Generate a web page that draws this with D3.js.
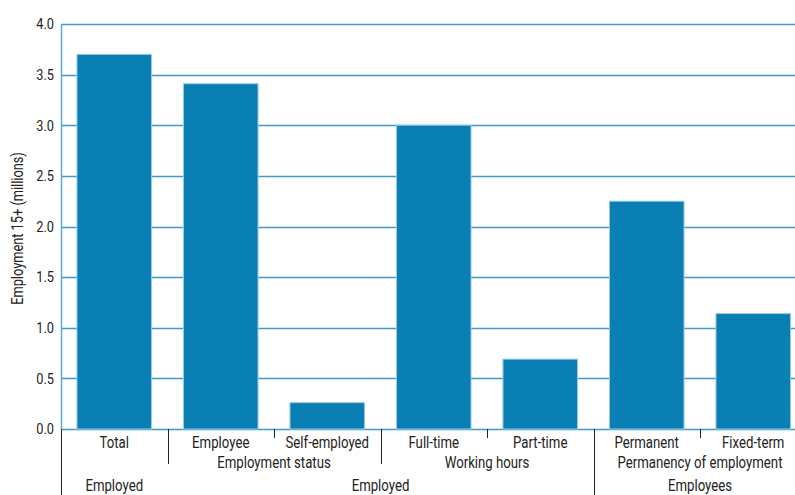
<!DOCTYPE html>
<html>
<head>
<meta charset="utf-8">
<script src="https://cdn.jsdelivr.net/npm/d3@7"></script>
<style>
  html, body { margin: 0; padding: 0; background: #fff; }
  svg { display: block; }
  text { font-family: Roboto, "DejaVu Sans Condensed", sans-serif; fill: #222; }
</style>
</head>
<body>
<svg id="chart" width="795" height="495"></svg>
<script>
const categories = ["Total", "Employee", "Self-employed", "Full-time", "Part-time", "Permanent", "Fixed-term"];
const values = [3.70, 3.41, 0.26, 3.00, 0.69, 2.25, 1.14];
const yTicks = [0, 0.5, 1.0, 1.5, 2.0, 2.5, 3.0, 3.5, 4.0];
const level2Labels = ["", "Employment status", "Working hours", "Permanency of employment"];
const level2Spans = [[0, 0], [1, 2], [3, 4], [5, 6]];
const level3Labels = ["Employed", "Employed", "Employees"];
const level3Spans = [[0, 0], [1, 4], [5, 6]];
const yLabel = "Employment 15+ (millions)";

(function () {
const svg = d3.select("#chart");
const pLeft = 61, pTop = 24, pBottom = 429, pRight = 806.5;

const x = d3.scaleBand().domain(categories).range([pLeft, pRight]).paddingInner(0.3).paddingOuter(0.15);
const y = d3.scaleLinear().domain([0, 4]).range([pBottom, pTop]);

const gridColor = "#3f9bca";
const barColor = "#0a7fb3";
const labelSize = 16.5;
const squeeze = 0.8;

// gridlines
svg.append("g").selectAll("line").data(yTicks).join("line")
  .attr("x1", pLeft).attr("x2", 795)
  .attr("y1", d => Math.round(y(d)) + 0.5).attr("y2", d => Math.round(y(d)) + 0.5)
  .attr("stroke", gridColor).attr("stroke-width", 1.3);

// left axis line
svg.append("line").attr("x1", pLeft + 0.5).attr("x2", pLeft + 0.5)
  .attr("y1", pTop).attr("y2", pBottom)
  .attr("stroke", "#5aaad2").attr("stroke-width", 1.5);

// y tick labels
const yAxis = d3.axisLeft(y).tickValues(yTicks).tickFormat(d3.format(".1f")).tickSize(0).tickPadding(7);
const ya = svg.append("g").attr("transform", `translate(${pLeft},0)`).call(yAxis);
ya.select(".domain").remove();
ya.selectAll("text").attr("font-size", 15).style("font-family", "Roboto, sans-serif").attr("fill", "#222")
  .attr("transform", `scale(${0.85},1)`).attr("x", -7 / 0.85);

// bars
svg.append("g").selectAll("rect").data(categories).join("rect")
  .attr("x", d => x(d))
  .attr("y", (d, i) => y(values[i]))
  .attr("width", x.bandwidth())
  .attr("height", (d, i) => y(0) - y(values[i]))
  .attr("fill", barColor)
  .attr("stroke", "#9cc9e0").attr("stroke-width", 1);

// y axis title
svg.append("text")
  .attr("transform", `translate(23, ${(pTop + pBottom) / 2 + 2}) rotate(-90) scale(${squeeze},1)`)
  .attr("text-anchor", "middle").attr("font-size", 16)
  .text(yLabel);

const step = x.step();
const edge = i => pLeft + step * i;

function labels(data, xf, yPos) {
  svg.append("g").selectAll("text").data(data).join("text")
    .attr("transform", (d, i) => `translate(${xf(d, i)},${yPos}) scale(${squeeze},1)`)
    .attr("text-anchor", "middle").attr("font-size", labelSize)
    .text(d => d);
}

// level 1 labels
labels(categories, d => x(d) + x.bandwidth() / 2, 448);

// short ticks between categories within a group
const shortTicks = [];
level2Spans.forEach(s => { for (let i = s[0] + 1; i <= s[1]; i++) shortTicks.push(i); });
svg.append("g").selectAll("line").data(shortTicks).join("line")
  .attr("x1", d => Math.round(edge(d)) + 0.5).attr("x2", d => Math.round(edge(d)) + 0.5)
  .attr("y1", pBottom).attr("y2", 438)
  .attr("stroke", "#222").attr("stroke-width", 1);

// level 2 boundaries
svg.append("g").selectAll("line").data(level2Spans.map(s => s[0])).join("line")
  .attr("x1", d => Math.round(edge(d)) + 0.5).attr("x2", d => Math.round(edge(d)) + 0.5)
  .attr("y1", pBottom).attr("y2", 464)
  .attr("stroke", "#222").attr("stroke-width", 1);

// level 2 labels
labels(level2Labels, (d, i) => (edge(level2Spans[i][0]) + edge(level2Spans[i][1] + 1)) / 2, 468);

// level 3 boundaries
svg.append("g").selectAll("line").data(level3Spans.map(s => s[0]).filter(i => i !== 1)).join("line")
  .attr("x1", d => Math.round(edge(d)) + 0.5).attr("x2", d => Math.round(edge(d)) + 0.5)
  .attr("y1", pBottom).attr("y2", 495)
  .attr("stroke", "#222").attr("stroke-width", 1);

// level 3 labels
labels(level3Labels, (d, i) => (edge(level3Spans[i][0]) + edge(level3Spans[i][1] + 1)) / 2, 491);
})();
</script>
</body>
</html>
